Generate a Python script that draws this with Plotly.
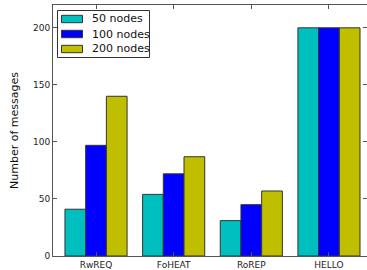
import plotly.graph_objects as go

categories = ["RwREQ", "FoHEAT", "RoREP", "HELLO"]
series_names = ["50 nodes", "100 nodes", "200 nodes"]
nodes50 = [41, 54, 31, 200]
nodes100 = [97, 72, 45, 200]
nodes200 = [140, 87, 57, 200]
colors = ["#00BFBF", "#0000FF", "#BFBF00"]

xpos = list(range(len(categories)))

W, H = 367, 270
ML, MR, MT, MB = 53, 0, 5, 14
PW, PH = W - ML - MR, H - MT - MB


def px(x):
    return (x - ML) / PW


def py(y):
    return (H - MB - y) / PH


fig = go.Figure()
for name, vals, col in zip(series_names, [nodes50, nodes100, nodes200], colors):
    fig.add_trace(go.Bar(
        x=xpos, y=vals, name=name, showlegend=False,
        marker=dict(color=col, line=dict(color="#333333", width=1)),
    ))

# manual legend (matplotlib style)
shapes = [dict(type="rect", xref="paper", yref="paper",
               x0=px(57.5), x1=px(149.5), y0=py(57.5), y1=py(10.5),
               line=dict(color="#333333", width=1), fillcolor="white", layer="above")]
annotations = []
for i, (name, col) in enumerate(zip(series_names, colors)):
    cy = 19 + 15 * i
    shapes.append(dict(type="rect", xref="paper", yref="paper",
                       x0=px(61.5), x1=px(82.5), y0=py(cy + 3.7), y1=py(cy - 3.7),
                       line=dict(color="#333333", width=1), fillcolor=col, layer="above"))
    annotations.append(dict(xref="paper", yref="paper", x=px(90), y=py(cy),
                            xanchor="left", yanchor="middle", showarrow=False,
                            text=name, font=dict(family="DejaVu Sans", size=11, color="#111111")))

axis_font = dict(family="DejaVu Sans", size=9, color="#222222")
fig.update_layout(
    width=W, height=H,
    margin=dict(l=ML, r=MR, t=MT, b=MB, autoexpand=False),
    paper_bgcolor="white", plot_bgcolor="white",
    barmode="group", bargap=0.2, bargroupgap=0,
    shapes=shapes, annotations=annotations,
    xaxis=dict(
        range=[-0.554, 3.49], automargin=False,
        tickmode="array", tickvals=xpos, ticktext=categories,
        ticks="inside", ticklen=4, tickcolor="#555555",
        showline=True, linecolor="#555555", linewidth=1, mirror="ticks",
        showgrid=False, zeroline=False, tickfont=axis_font,
    ),
    yaxis=dict(
        range=[0, 220], tickvals=[0, 50, 100, 150, 200], automargin=False,
        ticks="inside", ticklen=4, tickcolor="#555555",
        showline=True, linecolor="#555555", linewidth=1, mirror="ticks",
        showgrid=False, zeroline=False, tickfont=axis_font,
        title=dict(text="Number of messages", font=dict(family="DejaVu Sans", size=11, color="#111111"), standoff=12),
    ),
)

fig.write_html("out.html", config={"displayModeBar": False},
               post_script="document.body.style.margin='0';document.body.style.overflow='hidden';")
